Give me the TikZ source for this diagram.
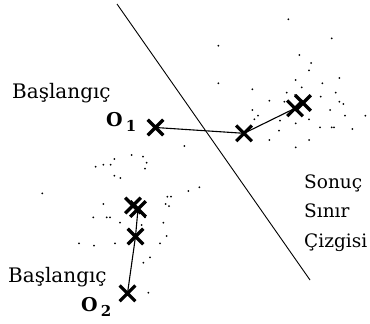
\documentclass[tikz,border=0pt]{standalone}
\usepackage{fontspec}
\setmainfont{DejaVu Serif}
\usetikzlibrary{shapes.misc}
\begin{document}
\begin{tikzpicture}[x=1pt,y=-1pt,
  xmark/.style={cross out,draw,line width=3.2pt,minimum size=12.5pt,inner sep=0pt},
  lbl/.style={inner sep=0pt,anchor=base west,font=\fontsize{20}{20}\selectfont},
  rlbl/.style={inner sep=0pt,anchor=base west,font=\fontsize{18.5}{18.5}\selectfont},
  olbl/.style={inner sep=0pt,anchor=base west,font=\fontsize{19}{19}\selectfont\bfseries},
  link/.style={line width=1.1pt},
  dot/.style={fill=black}]
\useasboundingbox (0,0) rectangle (370,324);
% boundary line
\coordinate (l1) at (117,4);
\coordinate (l2) at (310,280);
\draw[line width=0.9pt] (l1) -- (l2);
% crosses
\node[xmark] (c1) at (155.5,127.5) {};
\node[xmark] (c2) at (244,133.3) {};
\node[xmark] (c3) at (295,108.3) {};
\node[xmark] (c3b) at (303,103) {};
\node[xmark] (d1) at (133,205.5) {};
\node[xmark] (d1b) at (138,209) {};
\node[xmark] (d2) at (135.5,236.5) {};
\node[xmark] (d3) at (127.5,293.3) {};
\draw[link] (c1.center) -- (c2.center) -- (c3.center);
\draw[link] (d3.center) -- (d2.center) -- (d1b.center);
% labels
\node[lbl] (b1) at (12,98) {Başlangıç};
\node[lbl] (b2) at (8,282) {Başlangıç};
\node[rlbl] (s1) at (304,188) {Sonuç};
\node[rlbl] (s2) at (304,217) {Sınır};
\node[rlbl] (s3) at (304,247) {Çizgisi};
\node[olbl] (o1) at (106,126.5) {O\hspace{3pt}\raisebox{-5pt}{\fontsize{15}{15}\selectfont 1}};
\node[olbl] (o2) at (81,311.5) {O\hspace{3pt}\raisebox{-5pt}{\fontsize{15}{15}\selectfont 2}};
% scattered points
\foreach \p in {(288.3,19.3),(331.7,38.3),(218.3,45.7),(299.3,55),(311,63),(309,70.3),(218.3,83.3),(295.7,80),(339.3,78),(322.3,83.3),(252.3,89.3),(301.7,87.3),(286.7,92.7),(335.7,92.7),(295,95),(269.3,100.7),(320.7,96.7),(284.3,101.7),(339.3,101.7),(343.3,104),(252.3,110),(330,110),(258,115.7),(254.3,119.3),(280,120.7),(309,119.3),(345,115.7),(365.3,115.7),(295.7,123.3),(320,127.3),(331.7,127.3),(334,127.3),(352.3,129),(279,130.7),(269.3,140),(309,140),(295.7,147.3),(184.3,146),
(131.7,155),(114.3,159),(143,156.7),(146.7,162.7),(95.7,166.7),(103.3,164.7),(110.7,164.7),(145,168.7),(114.3,175.7),(120.3,178),(188.3,191),(199.3,187.3),(167.3,196.7),(171,196.7),(42.3,193.3),(103.3,204),(165.7,204),(169,206),(93.3,217.3),(106.7,217.3),(110,217.3),(145,217.3),(120,222.7),(163.3,222.7),(141.7,225),(166.7,236),(79,243.3),(94,245.7),(115,243.3),(160,243.3),(150,257.3),(143.3,262.7),(148.3,292.7)}
  \fill[dot] \p circle (1);
\end{tikzpicture}
\end{document}
